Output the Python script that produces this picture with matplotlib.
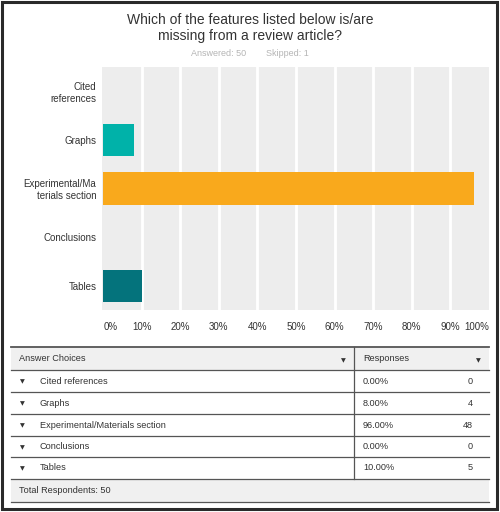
import matplotlib
matplotlib.use("Agg")
import matplotlib.pyplot as plt
from matplotlib.patches import Rectangle

plt.rcParams['font.family'] = ['Liberation Sans', 'DejaVu Sans']

title = "Which of the features listed below is/are\nmissing from a review article?"
subtitle_answered = "Answered: 50"
subtitle_skipped = "Skipped: 1"
bar_labels = ["Cited\nreferences", "Graphs", "Experimental/Ma\nterials section", "Conclusions", "Tables"]
table_labels = ["Cited references", "Graphs", "Experimental/Materials section", "Conclusions", "Tables"]
percent = [0.0, 8.0, 96.0, 0.0, 10.0]
counts = [0, 4, 48, 0, 5]
bar_colors = ["#00b2a9", "#00b2a9", "#f9a91c", "#00b2a9", "#04737c"]
xticks = [0, 10, 20, 30, 40, 50, 60, 70, 80, 90, 100]
total_respondents = 50

W, H = 500, 512
fig = plt.figure(figsize=(W / 100, H / 100), dpi=100)
fig.patch.set_facecolor("white")

# overlay axes in pixel coordinates
ov = fig.add_axes([0, 0, 1, 1], zorder=0)
ov.set_xlim(0, W)
ov.set_ylim(H, 0)
ov.axis("off")

# bar chart axes
left, right, top, bottom = 102, 489, 67, 310
ax = fig.add_axes([left / W, 1 - bottom / H, (right - left) / W, (bottom - top) / H], zorder=1)
ax.set_facecolor("#ededed")
ypos = list(range(len(bar_labels)))
ax.barh(ypos, percent, height=0.66, color=bar_colors, zorder=3)
ax.set_xlim(-0.3, 100)
ax.set_ylim(len(bar_labels) - 0.5, -0.5)
ax.set_xticks(xticks)
ax.set_xticklabels([f"{t}%" for t in xticks], fontsize=7, color="#333333")
labels = ax.get_xticklabels()
labels[0].set_horizontalalignment("left")
labels[-1].set_horizontalalignment("right")
ax.set_yticks(ypos)
ax.set_yticklabels(bar_labels, fontsize=7, color="#333333")
ax.tick_params(axis="y", length=0, pad=4)
ax.tick_params(axis="x", length=0, pad=9)
for t in xticks[1:-1]:
    ax.axvline(t, color="white", linewidth=2, zorder=1)
for s in ax.spines.values():
    s.set_visible(False)

# title
ov.text(250, 28, title, ha="center", va="center", fontsize=10, color="#333333", linespacing=1.15)
ov.text(219, 54, subtitle_answered, ha="center", va="center", fontsize=6.5, color="#b5b5b5")
ov.text(287, 54, subtitle_skipped, ha="center", va="center", fontsize=6.5, color="#b5b5b5")

# table
tl, tr, tdiv = 11, 489, 354
row_edges = [347, 370, 392, 414, 436, 457, 479, 502]
ov.add_patch(Rectangle((tl, row_edges[0]), tr - tl, row_edges[1] - row_edges[0], facecolor="#f0f0f0", edgecolor="none"))
ov.add_patch(Rectangle((tl, row_edges[-2]), tr - tl, row_edges[-1] - row_edges[-2], facecolor="#f0f0f0", edgecolor="none"))
ov.plot([tl, tr], [row_edges[0], row_edges[0]], color="#555555", lw=1.3)
for y in row_edges[1:]:
    ov.plot([tl, tr], [y, y], color="#555555", lw=0.9)
ov.plot([tdiv, tdiv], [row_edges[0], row_edges[-2]], color="#555555", lw=0.9)

tfs = 6.6
hy = (row_edges[0] + row_edges[1]) / 2
ov.text(19, hy, "Answer Choices", ha="left", va="center", fontsize=tfs, color="#333333")
ov.text(363, hy, "Responses", ha="left", va="center", fontsize=tfs, color="#333333")
ov.text(343, hy + 2, "▼", ha="center", va="center", fontsize=4.5, color="#333333", family="DejaVu Sans")
ov.text(478, hy + 2, "▼", ha="center", va="center", fontsize=4.5, color="#333333", family="DejaVu Sans")
for i, lab in enumerate(table_labels):
    cy = (row_edges[i + 1] + row_edges[i + 2]) / 2
    ov.text(22, cy + 1, "▼", ha="center", va="center", fontsize=4.5, color="#333333", family="DejaVu Sans")
    ov.text(40, cy, lab, ha="left", va="center", fontsize=tfs, color="#333333")
    ov.text(363, cy, f"{percent[i]:.2f}%", ha="left", va="center", fontsize=tfs, color="#333333")
    ov.text(473, cy, f"{counts[i]}", ha="right", va="center", fontsize=tfs, color="#333333")
fy = (row_edges[-2] + row_edges[-1]) / 2
ov.text(19, fy, f"Total Respondents: {total_respondents}", ha="left", va="center", fontsize=tfs, color="#333333")

# outer frame
ov.add_patch(Rectangle((2, 2), W - 5, H - 5, facecolor="none", edgecolor="#2a2a2a", lw=2.2))

fig.savefig("out.png", dpi=100)
